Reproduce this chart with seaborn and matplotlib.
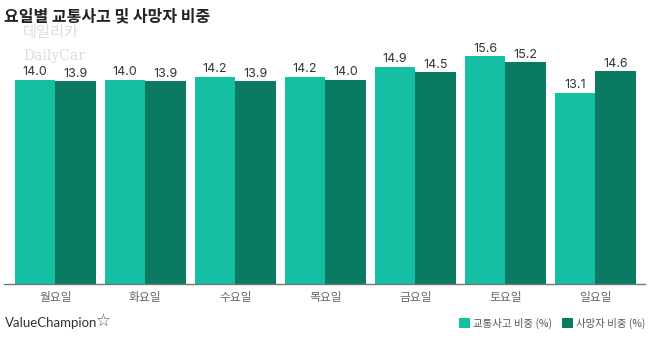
import matplotlib
matplotlib.use("Agg")
import matplotlib.pyplot as plt
import seaborn as sns
import pandas as pd
from matplotlib.patches import Patch

days = ["월요일", "화요일", "수요일", "목요일", "금요일", "토요일", "일요일"]
accidents = [14.0, 14.0, 14.2, 14.2, 14.9, 15.6, 13.1]
deaths = [13.9, 13.9, 13.9, 14.0, 14.5, 15.2, 14.6]
series_names = ["교통사고 비중 (%)", "사망자 비중 (%)"]
colors = ["#14BFA4", "#0B7A62"]

df = pd.DataFrame({
    "day": days * 2,
    "value": accidents + deaths,
    "series": [series_names[0]] * len(days) + [series_names[1]] * len(days),
})

sns.set_theme(style="white")
plt.rcParams["font.family"] = ["Noto Sans CJK KR", "DejaVu Sans"]

fig = plt.figure(figsize=(6.58, 3.42), dpi=100)
ax = fig.add_axes([0.006, 0.1696, 0.974, 0.704])

sns.barplot(data=df, x="day", y="value", hue="series", palette=colors,
            width=0.9, saturation=1, ax=ax, legend=False, order=days,
            hue_order=series_names)

for container in ax.containers:
    for bar in container:
        bar.set_linewidth(0)
    ax.bar_label(container, fmt="%.1f", padding=1, fontsize=9,
                 color="#333333", family=["Inter", "DejaVu Sans"])

ax.set_xlim(-0.57, 6.55)
ax.set_ylim(0, 16.5)
ax.set_xlabel("")
ax.set_ylabel("")
ax.set_yticks([])
ax.tick_params(axis="x", length=0, pad=5, labelsize=8.5, labelcolor="#666666")
for s in ["top", "right", "left"]:
    ax.spines[s].set_visible(False)
ax.spines["bottom"].set_color("#777777")
ax.spines["bottom"].set_linewidth(1)

fig.text(0.006, 0.953, "요일별 교통사고 및 사망자 비중", fontsize=11.5,
         fontweight="bold", color="#222222", va="center", ha="left")

# faint watermark
fig.text(0.035, 0.905, "데일리카", fontsize=11, color="#dcdcdc",
         va="center", ha="left")
fig.text(0.035, 0.835, "DailyCar", fontsize=10, color="#dcdcdc",
         va="center", ha="left", family=["DejaVu Serif"])

fig.text(0.008, 0.055, "ValueChampion", fontsize=9.5, color="#333333",
         va="center", ha="left", family=["Lato", "DejaVu Sans"])
fig.text(0.146, 0.062, "☆", fontsize=12, color="#555555",
         va="center", ha="left", family=["DejaVu Sans"])

handles = [Patch(facecolor=c, edgecolor="none") for c in colors]
fig.legend(handles, series_names, loc="center right",
           bbox_to_anchor=(0.995, 0.055), ncol=2, frameon=False,
           fontsize=7.5, handlelength=1.0, handleheight=1.0,
           handletextpad=0.3, columnspacing=1.0, labelcolor="#555555")

fig.savefig("out.png", dpi=100)
